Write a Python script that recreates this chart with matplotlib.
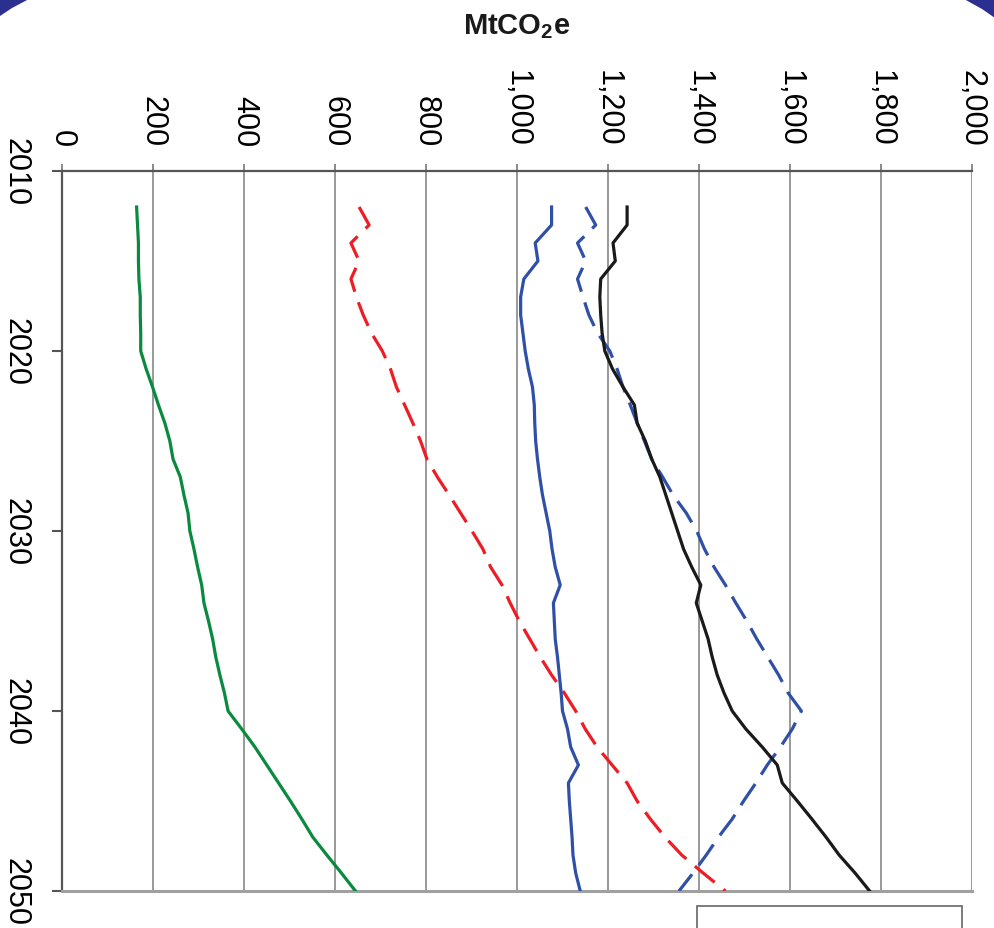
import matplotlib
matplotlib.use('Agg')
import matplotlib.pyplot as plt
from matplotlib.patches import Polygon, Rectangle
import numpy as np

plt.rcParams['font.family'] = ['Liberation Sans', 'DejaVu Sans']
plt.rcParams['mathtext.fontset'] = 'custom'
plt.rcParams['mathtext.rm'] = 'Liberation Sans'
plt.rcParams['mathtext.bf'] = 'Liberation Sans:bold'

years = list(range(2012, 2051))

green_solid = [164, 166, 168, 168, 169, 172, 172, 173, 173, 185,
               199, 212, 226, 237, 244, 260, 268, 277, 281, 290,
               298, 307, 312, 322, 331, 338, 347, 357, 365, 395,
               424, 450, 476, 502, 527, 551, 582, 614, 645]

red_dashed = [653, 675, 635, 653, 635, 647, 662, 680, 704, 722,
              735, 753, 771, 788, 802, 825, 851, 876, 901, 925,
              942, 967, 985, 1005, 1028, 1051, 1076, 1104, 1129, 1150,
              1176, 1209, 1242, 1264, 1293, 1325, 1362, 1409, 1458]

blue_solid = [1076, 1076, 1040, 1046, 1015, 1008, 1008, 1013, 1018, 1025,
              1034, 1038, 1039, 1041, 1045, 1050, 1056, 1064, 1072, 1077,
              1084, 1095, 1080, 1082, 1084, 1089, 1093, 1097, 1100, 1111,
              1118, 1135, 1113, 1115, 1118, 1121, 1123, 1129, 1139]

blue_dashed = [1151, 1173, 1133, 1151, 1133, 1145, 1158, 1177, 1204, 1220,
               1233, 1249, 1264, 1280, 1296, 1320, 1343, 1372, 1395, 1412,
               1433, 1458, 1481, 1505, 1527, 1551, 1575, 1596, 1625, 1605,
               1579, 1550, 1525, 1498, 1473, 1443, 1416, 1387, 1356]

black_solid = [1242, 1242, 1211, 1216, 1184, 1182, 1184, 1187, 1193, 1210,
               1233, 1258, 1264, 1282, 1296, 1314, 1327, 1340, 1353, 1366,
               1384, 1404, 1394, 1407, 1420, 1429, 1440, 1455, 1473, 1503,
               1539, 1572, 1583, 1616, 1648, 1679, 1708, 1743, 1775]

value_ticks = list(range(0, 2001, 200))
value_labels = ['0', '200', '400', '600', '800', '1,000', '1,200',
                '1,400', '1,600', '1,800', '2,000']
year_ticks = [2010, 2020, 2030, 2040, 2050]

W, H = 995, 929
fig = plt.figure(figsize=(W / 100, H / 100), dpi=100)
ax = fig.add_axes([62 / W, 1 - 892 / H, 910 / W, 720 / H])

# rotated chart: years run down, emissions run across
ax.plot(green_solid, years, color='#0a8a3e', lw=2.3, zorder=3)
ax.plot(red_dashed, years, color='#ee1c25', lw=2.3, dashes=(8, 3.5), zorder=3)
ax.plot(blue_solid, years, color='#3050a8', lw=2.3, zorder=3)
ax.plot(blue_dashed, years, color='#3050a8', lw=2.3, dashes=(8, 3.5), zorder=4)
ax.plot(black_solid, years, color='#1a1a1a', lw=2.3, zorder=5)

ax.set_xlim(0, 2000)
ax.set_ylim(2050, 2010)

ax.xaxis.tick_top()
ax.set_xticks(value_ticks)
ax.set_xticklabels(value_labels)
ax.set_yticks(year_ticks)
ax.set_yticklabels([str(y) for y in year_ticks])
ax.tick_params(axis='x', which='major', direction='out', length=5, width=1.2,
               color='#777777', labelsize=22, pad=13, labelrotation=270)
ax.tick_params(axis='y', which='major', direction='out', length=7, width=1.5,
               color='#555555', labelsize=22, pad=16, labelrotation=270)
for lab in ax.get_xticklabels():
    lab.set_va('bottom')
for lab in ax.get_yticklabels():
    lab.set_va('center')

ax.grid(axis='x', color='#888888', lw=1.2)
ax.grid(axis='y', visible=False)
ax.spines['right'].set_visible(False)
ax.spines['top'].set_color('#555555')
ax.spines['top'].set_linewidth(1.6)
ax.spines['left'].set_color('#555555')
ax.spines['left'].set_linewidth(1.6)
ax.spines['bottom'].set_color('#a0a0a0')
ax.spines['bottom'].set_linewidth(2.2)
ax.set_axisbelow(True)

fig.text(517 / W, 1 - 27 / H, r'$\mathbf{MtCO_2e}$', ha='center', va='center',
         fontsize=21, color='#1a1a1a')

# slide decoration in the corners and the cut-off legend frame
navy = '#2b2f8f'
def px(x, y):
    return (x / W, 1 - y / H)
fig.patches.append(Polygon([px(0, 0), px(29, 0), px(12, 9), px(0, 17)],
                           closed=True, transform=fig.transFigure,
                           facecolor=navy, edgecolor='none'))
fig.patches.append(Polygon([px(995, 0), px(964, 0), px(982, 10), px(995, 19)],
                           closed=True, transform=fig.transFigure,
                           facecolor=navy, edgecolor='none'))
fig.patches.append(Rectangle(px(697, 940), 265 / W, 33 / H,
                             transform=fig.transFigure, facecolor='none',
                             edgecolor='#666666', lw=1.2))

fig.savefig('out.png', dpi=100)
